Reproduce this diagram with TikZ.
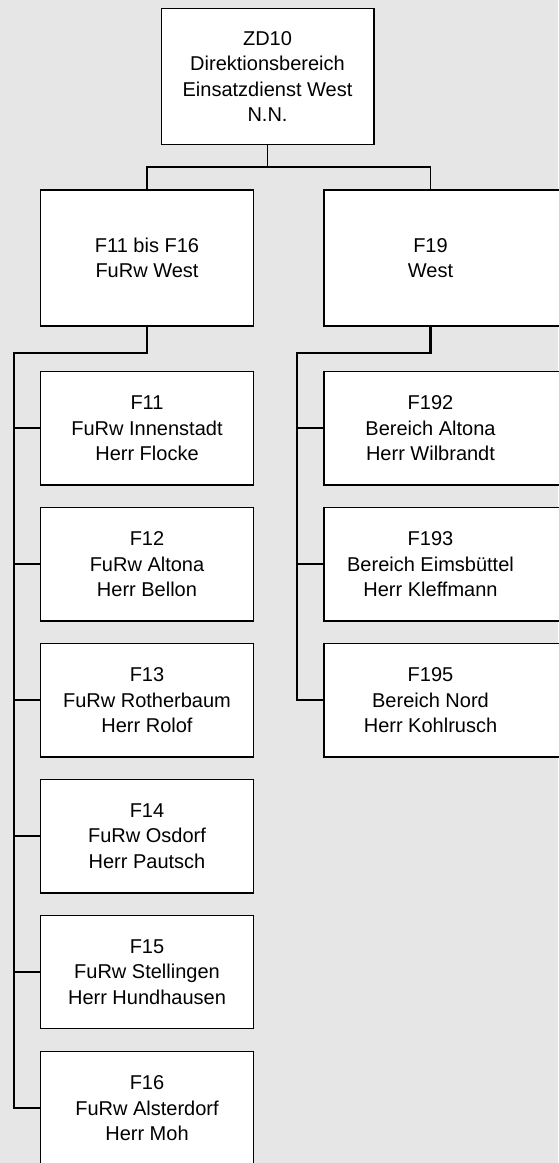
\documentclass[tikz,border=0pt]{standalone}
\usepackage{fontspec}
\setmainfont{Liberation Sans}
\usetikzlibrary{positioning}
\definecolor{bgcol}{RGB}{230,230,230}
\pgfdeclarelayer{back}
\pgfdeclarelayer{background}
\pgfsetlayers{back,background,main}
\tikzset{
  txt/.style={align=center, inner sep=0pt, font=\fontsize{20}{25.5}\selectfont},
  bigbox/.style={txt, draw=black, fill=white, line width=1.5pt, minimum width=212.5pt, minimum height=136pt},
  smallbox/.style={txt, draw=black, fill=white, line width=1.5pt, minimum width=213pt, minimum height=113.3pt},
  openbox/.style={txt, minimum width=213pt},
  openframe/.style={draw=black, fill=white, line width=1.5pt},
  conn/.style={draw=black, line width=1.7pt},
  trunk/.style={draw=black, line width=2.1pt},
}
\begin{document}
\begin{tikzpicture}[x=1pt,y=-1pt]
\begin{pgfonlayer}{back}
\fill[bgcol] (0,0) rectangle (558,1163);
\end{pgfonlayer}
\useasboundingbox (0,0) rectangle (558,1163);

% top
\node[bigbox] (top) at (267.5,76.5) {ZD10\\Direktionsbereich\\Einsatzdienst West\\N.N.};

% second level
\node[bigbox, minimum width=213pt] (fl) at (147,258) {F11 bis F16\\FuRw West};
\node[openbox, minimum height=136pt] (fr) at (430.5,258) {F19\\West};

% left children
\node[smallbox] (f11) at (147,428.3) {F11\\FuRw Innenstadt\\Herr Flocke};
\node[smallbox] (f12) at (147,564.3) {F12\\FuRw Altona\\Herr Bellon};
\node[smallbox] (f13) at (147,700.3) {F13\\FuRw Rotherbaum\\Herr Rolof};
\node[smallbox] (f14) at (147,836.1) {F14\\FuRw Osdorf\\Herr Pautsch};
\node[smallbox] (f15) at (147,972.0) {F15\\FuRw Stellingen\\Herr Hundhausen};
\node[smallbox] (f16) at (147,1108.3) {F16\\FuRw Alsterdorf\\Herr Moh};

% right children (boxes run past the right edge)
\node[openbox, minimum height=113.3pt] (f192) at (430.5,428.3) {F192\\Bereich Altona\\Herr Wilbrandt};
\node[openbox, minimum height=113.3pt] (f193) at (430.5,564.3) {F193\\Bereich Eimsbüttel\\Herr Kleffmann};
\node[openbox, minimum height=113.3pt] (f195) at (430.5,700.3) {F195\\Bereich Nord\\Herr Kohlrusch};

\begin{pgfonlayer}{background}
\foreach \n in {fr,f192,f193,f195}{
  \draw[openframe] (\n.north west) rectangle ([xshift=60pt]\n.south east);
}
\end{pgfonlayer}

% connectors top
\coordinate (tj) at (267.5,167);
\draw[conn] (top.south) -- (tj);
\draw[conn] (fl.north) |- (tj) -| (fr.north);

% left trunk
\coordinate (tl) at (14,353);
\draw[trunk] (fl.south) |- (tl) |- (f16.west);
\foreach \n in {f11,f12,f13,f14,f15}{
  \draw[conn] (\n.west -| tl) -- (\n.west);
}

% right trunk
\coordinate (tr) at (296.7,353);
\draw[trunk] (fr.south) |- (tr) |- (f195.west);
\foreach \n in {f192,f193}{
  \draw[conn] (\n.west -| tr) -- (\n.west);
}
\end{tikzpicture}
\end{document}
